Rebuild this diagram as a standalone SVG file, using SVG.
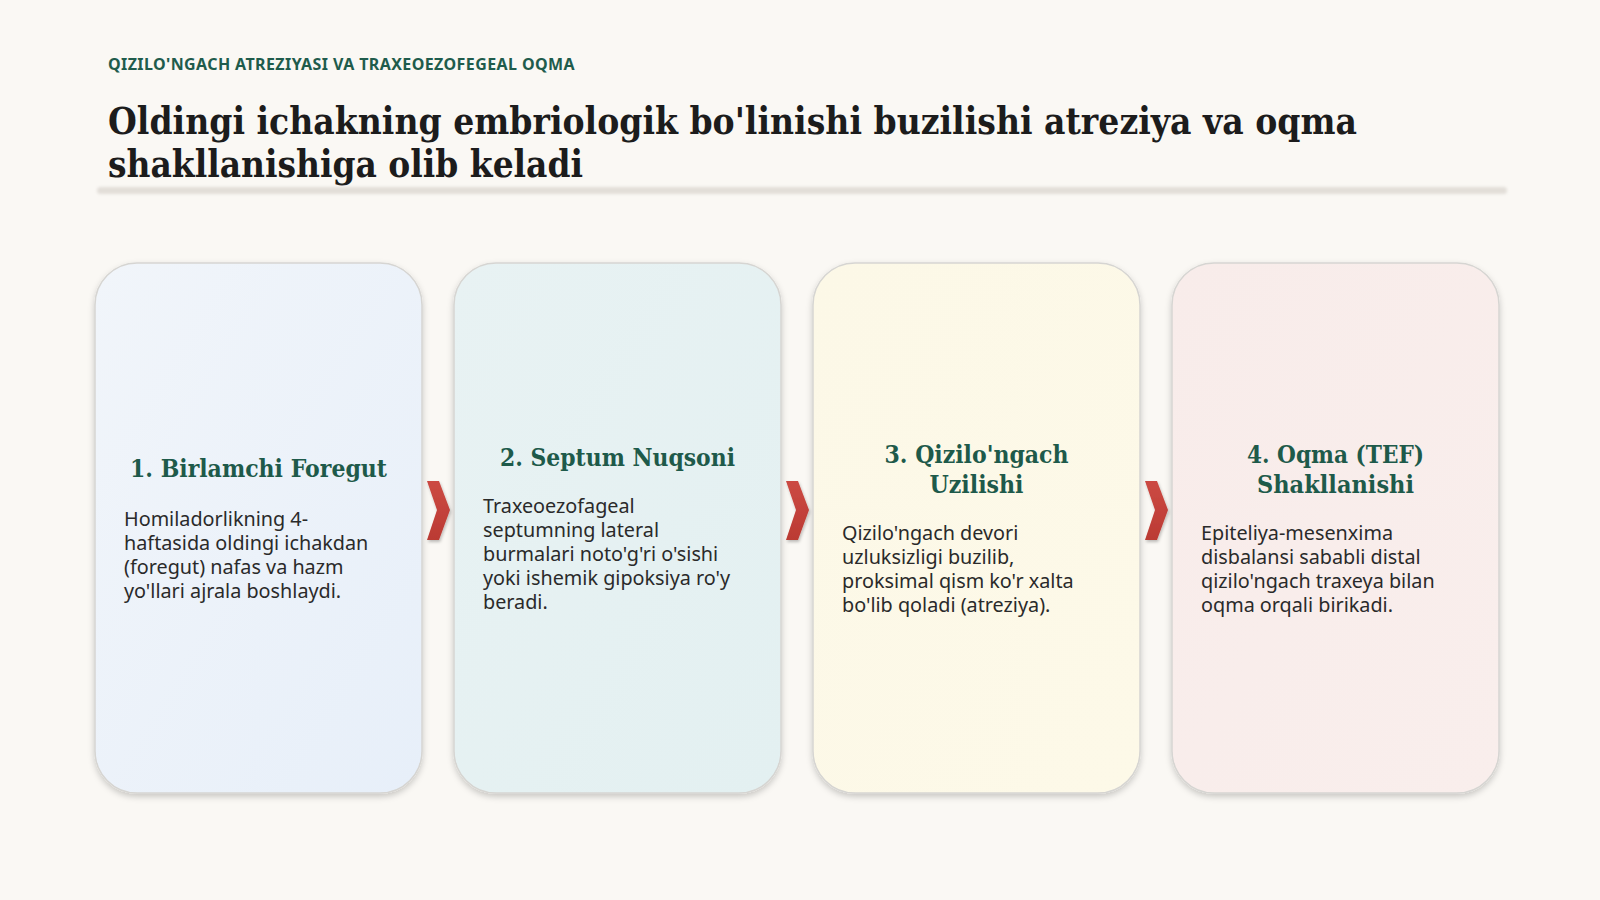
<svg xmlns="http://www.w3.org/2000/svg" width="1600" height="900" viewBox="0 0 1600 900">
<defs>
<style>
.kicker{font-family:"Noto Sans","DejaVu Sans",sans-serif;font-weight:700;font-size:16px;fill:#1f5c4c;letter-spacing:0.4px}
.title{font-family:"DejaVu Serif","Liberation Serif",serif;font-weight:700;font-size:38px;fill:#1c1c1c}
.ctitle{font-family:"DejaVu Serif","Liberation Serif",serif;font-weight:700;font-size:24px;fill:#1e5a4a;text-anchor:middle}
.body{font-family:"Noto Sans","DejaVu Sans",sans-serif;font-size:19.8px;fill:#2a2a2a}
.card{stroke:#d6d5d2;stroke-width:1.5}
.chev{fill:url(#gChev)}
</style>
<linearGradient id="g1" x1="0" y1="0" x2="1" y2="1"><stop offset="0" stop-color="#f1f5fa"/><stop offset="1" stop-color="#e7eff9"/></linearGradient>
<linearGradient id="g2" x1="0" y1="0" x2="1" y2="1"><stop offset="0" stop-color="#e8f2f3"/><stop offset="1" stop-color="#e3f0f1"/></linearGradient>
<linearGradient id="g3" x1="0" y1="0" x2="1" y2="1"><stop offset="0" stop-color="#fcf8e7"/><stop offset="1" stop-color="#fdf9e8"/></linearGradient>
<linearGradient id="g4" x1="0" y1="0" x2="1" y2="1"><stop offset="0" stop-color="#f8ecea"/><stop offset="1" stop-color="#f9eeec"/></linearGradient>
<linearGradient id="gChev" x1="0" y1="0" x2="0" y2="1"><stop offset="0" stop-color="#cc4a43"/><stop offset="1" stop-color="#bb3a33"/></linearGradient>
<filter id="shadow" x="-10%" y="-10%" width="120%" height="120%">
<feDropShadow dx="0" dy="3" stdDeviation="3" flood-color="#000" flood-opacity="0.2"/>
</filter>
<filter id="cshadow" x="-50%" y="-50%" width="200%" height="200%">
<feDropShadow dx="1" dy="2" stdDeviation="1.5" flood-color="#000" flood-opacity="0.25"/>
</filter>
<filter id="blur" x="-5%" y="-100%" width="110%" height="300%">
<feGaussianBlur stdDeviation="1.5"/>
</filter>
</defs>
<rect width="1600" height="900" fill="#faf8f4"/>

<g id="header">
<text class="kicker" x="108" y="70">QIZILO'NGACH ATREZIYASI VA TRAXEOEZOFEGEAL OQMA</text>
<text class="title" x="108" y="134" textLength="1249" lengthAdjust="spacingAndGlyphs">Oldingi ichakning embriologik bo'linishi buzilishi atreziya va oqma</text>
<text class="title" x="108" y="177" textLength="475" lengthAdjust="spacingAndGlyphs">shakllanishiga olib keladi</text>
<rect x="97" y="187" width="1410" height="7" rx="3.5" fill="#e2ded8" filter="url(#blur)"/>
</g>

<g id="connectors">
<polygon class="chev" filter="url(#cshadow)" points="427,481 439,481 450,510 439,540 427,540 437,510"/>
<polygon class="chev" filter="url(#cshadow)" points="786,481 798,481 809,510 798,540 786,540 796,510"/>
<polygon class="chev" filter="url(#cshadow)" points="1145,481 1157,481 1168,510 1157,540 1145,540 1155,510"/>
</g>

<g id="node1">
<rect class="card" x="95" y="263" width="327" height="530" rx="42" fill="url(#g1)" filter="url(#shadow)"/>
<text class="ctitle" x="258.5" y="477" textLength="257" lengthAdjust="spacingAndGlyphs">1. Birlamchi Foregut</text>
<text class="body" x="124" y="526">Homiladorlikning 4-</text>
<text class="body" x="124" y="550">haftasida oldingi ichakdan</text>
<text class="body" x="124" y="574">(foregut) nafas va hazm</text>
<text class="body" x="124" y="598">yo'llari ajrala boshlaydi.</text>
</g>

<g id="node2">
<rect class="card" x="454" y="263" width="327" height="530" rx="42" fill="url(#g2)" filter="url(#shadow)"/>
<text class="ctitle" x="617.5" y="466" textLength="235" lengthAdjust="spacingAndGlyphs">2. Septum Nuqsoni</text>
<text class="body" x="483" y="513">Traxeoezofageal</text>
<text class="body" x="483" y="537">septumning lateral</text>
<text class="body" x="483" y="561">burmalari noto'g'ri o'sishi</text>
<text class="body" x="483" y="585">yoki ishemik gipoksiya ro'y</text>
<text class="body" x="483" y="609">beradi.</text>
</g>

<g id="node3">
<rect class="card" x="813" y="263" width="327" height="530" rx="42" fill="url(#g3)" filter="url(#shadow)"/>
<text class="ctitle" x="976.5" y="463" textLength="184" lengthAdjust="spacingAndGlyphs">3. Qizilo'ngach</text>
<text class="ctitle" x="976.5" y="493" textLength="94" lengthAdjust="spacingAndGlyphs">Uzilishi</text>
<text class="body" x="842" y="540">Qizilo'ngach devori</text>
<text class="body" x="842" y="564">uzluksizligi buzilib,</text>
<text class="body" x="842" y="588">proksimal qism ko'r xalta</text>
<text class="body" x="842" y="612">bo'lib qoladi (atreziya).</text>
</g>

<g id="node4">
<rect class="card" x="1172" y="263" width="327" height="530" rx="42" fill="url(#g4)" filter="url(#shadow)"/>
<text class="ctitle" x="1335.5" y="463" textLength="177" lengthAdjust="spacingAndGlyphs">4. Oqma (TEF)</text>
<text class="ctitle" x="1335.5" y="493" textLength="157" lengthAdjust="spacingAndGlyphs">Shakllanishi</text>
<text class="body" x="1201" y="540">Epiteliya-mesenxima</text>
<text class="body" x="1201" y="564">disbalansi sababli distal</text>
<text class="body" x="1201" y="588">qizilo'ngach traxeya bilan</text>
<text class="body" x="1201" y="612">oqma orqali birikadi.</text>
</g>
</svg>
